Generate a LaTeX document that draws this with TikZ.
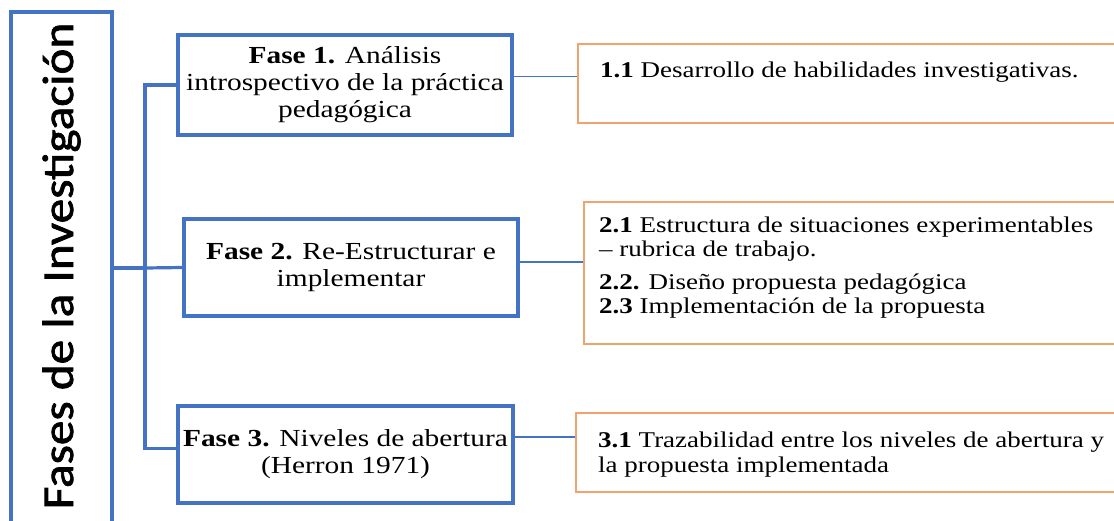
\documentclass[tikz,border=0pt]{standalone}
\usepackage{fontspec}
\setmainfont{Liberation Serif}[FakeStretch=1.2]
\newfontfamily\sidefont{Carlito}[FakeStretch=1.12,FakeBold=1.6]
\definecolor{fblue}{HTML}{4472C4}
\definecolor{forange}{HTML}{F2A26E}
\begin{document}
\begin{tikzpicture}[x=1pt,y=-1pt,
  phasebox/.style={draw=fblue, line width=3.2pt, inner sep=0pt, align=center,
    font=\fontsize{24.5}{27}\selectfont},
  itembox/.style={draw=forange, line width=2.1pt, inner sep=0pt},
  itemtext/.style={anchor=base west, inner sep=0pt, font=\fontsize{22.5}{24}\selectfont},
  bus/.style={draw=fblue, line width=3.2pt},
  link/.style={draw=fblue, line width=1.4pt}]
\useasboundingbox (0,0) rectangle (1114,520);
\clip (0,0) rectangle (1114,520);

% left box
\node[draw=fblue, line width=3.2pt, minimum width=101pt, minimum height=518pt, inner sep=0pt] (L) at (61.5,271) {};
\node[rotate=90, anchor=base, inner sep=0pt, font=\sidefont\fontsize{44}{44}\selectfont] (T) at (73,266) {Fases de la Investigación};

% phase boxes
\node[phasebox, minimum width=334pt, minimum height=100pt] (F1) at (345,85)
  {\textbf{Fase 1.} Análisis\\introspectivo de la práctica\\pedagógica};
\node[phasebox, minimum width=334pt, minimum height=97pt] (F2) at (351,267.5)
  {\textbf{Fase 2.} Re-Estructurar e\\implementar};
\node[phasebox, minimum width=335pt, minimum height=97pt] (F3) at (345.5,454.5)
  {\textbf{Fase 3.} Niveles de abertura\\(Herron 1971)};

% item boxes
\node[itembox, minimum width=552pt, minimum height=79pt] (O1) at (854,83.5) {};
\node[itembox, minimum width=546pt, minimum height=142pt] (O2) at (857,273) {};
\node[itembox, minimum width=554pt, minimum height=79pt] (O3) at (853,452.5) {};

\node[itemtext] (t1) at (600,77) {\textbf{1.1} Desarrollo de habilidades investigativas.};
\node[itemtext] (t2) at (599,232) {\parbox[t]{510pt}{\raggedright
  \textbf{2.1} Estructura de situaciones experimentables\\
  – rubrica de trabajo.\\[9pt]
  \textbf{2.2.} Diseño propuesta pedagógica\\
  \textbf{2.3} Implementación de la propuesta}};
\node[itemtext] (t3) at (598,447) {\parbox[t]{510pt}{\raggedright\fontsize{22.5}{25}\selectfont
  \textbf{3.1} Trazabilidad entre los niveles de abertura y\\
  la propuesta implementada}};

% bus connectors
\coordinate (hub) at (145,268);
\draw[bus] (L.east |- hub) -- (hub);
\draw[bus] (F1.west) -| (hub);
\draw[bus] (F2.west) -- (hub);
\draw[bus] ([yshift=6pt]F3.west) -| (hub);

% right connectors
\draw[link] ([yshift=8.5pt]F1.east) -- ([yshift=8.5pt]F1.east -| O1.west);
\draw[link] ([yshift=5.5pt]F2.east) -- ([yshift=5.5pt]F2.east -| O2.west);
\draw[link] ([yshift=17.5pt]F3.east) -- ([yshift=17.5pt]F3.east -| O3.west);
\end{tikzpicture}
\end{document}
